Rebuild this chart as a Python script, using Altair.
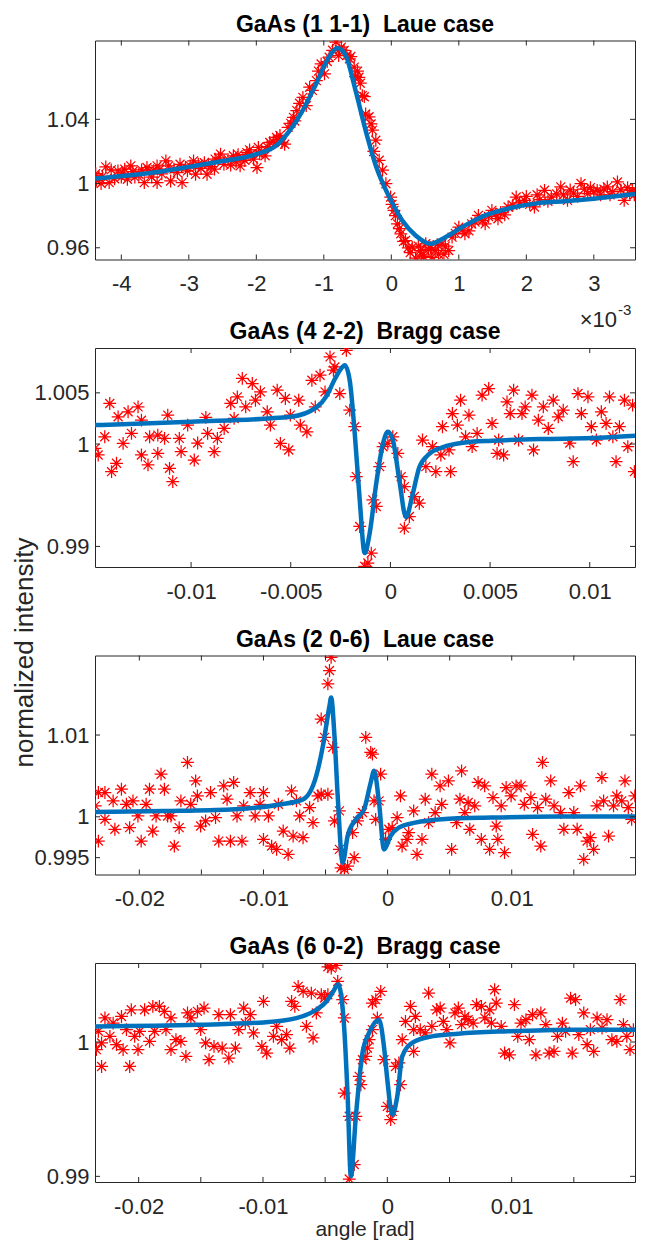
import altair as alt
import pandas as pd

# ---------------- data ----------------
# Panel 1: GaAs (1 1-1) Laue case, x in units of 1e-3 rad
P1_POINTS = [
    (-4.38, 1.0062), (-4.37, 1.0020), (-4.33, 1.0040), (-4.30, 1.0000), (-4.28, 1.0045),
    (-4.23, 1.0104), (-4.18, 1.0006), (-4.15, 1.0085), (-4.10, 1.0030), (-4.05, 1.0079),
    (-4.00, 1.0040), (-3.98, 1.0065), (-3.95, 1.0090), (-3.91, 1.0027), (-3.86, 1.0110),
    (-3.83, 1.0075), (-3.80, 1.0040), (-3.74, 1.0058), (-3.70, 1.0085), (-3.66, 1.0006),
    (-3.62, 1.0100), (-3.59, 1.0079), (-3.55, 1.0040), (-3.52, 1.0080), (-3.47, 1.0006),
    (-3.47, 1.0110), (-3.43, 1.0090), (-3.40, 1.0060), (-3.34, 1.0141), (-3.30, 1.0110),
    (-3.27, 1.0016), (-3.22, 1.0090), (-3.17, 1.0068), (-3.13, 1.0120), (-3.10, 1.0006),
    (-3.05, 1.0100), (-3.02, 1.0079), (-2.98, 1.0110), (-2.93, 1.0141), (-2.90, 1.0058),
    (-2.86, 1.0120), (-2.82, 1.0095), (-2.77, 1.0130), (-2.73, 1.0058), (-2.71, 1.0120),
    (-2.67, 1.0105), (-2.62, 1.0090), (-2.61, 1.0152), (-2.56, 1.0160), (-2.53, 1.0183),
    (-2.48, 1.0120), (-2.42, 1.0150), (-2.38, 1.0115), (-2.34, 1.0173), (-2.30, 1.0135),
    (-2.27, 1.0180), (-2.24, 1.0110), (-2.20, 1.0160), (-2.17, 1.0145), (-2.14, 1.0193),
    (-2.10, 1.0210), (-2.08, 1.0185), (-2.04, 1.0152), (-1.99, 1.0100), (-1.97, 1.0225),
    (-1.95, 1.0185), (-1.92, 1.0200), (-1.87, 1.0173), (-1.84, 1.0230), (-1.80, 1.0256),
    (-1.75, 1.0260), (-1.70, 1.0287), (-1.68, 1.0270), (-1.65, 1.0300), (-1.62, 1.0255),
    (-1.58, 1.0245), (-1.53, 1.0350), (-1.49, 1.0375), (-1.45, 1.0412), (-1.43, 1.0390),
    (-1.40, 1.0454), (-1.36, 1.0500), (-1.31, 1.0537), (-1.26, 1.0485), (-1.21, 1.0600),
    (-1.17, 1.0580), (-1.11, 1.0641), (-1.08, 1.0700), (-1.04, 1.0745), (-0.99, 1.0683),
    (-0.95, 1.0760), (-0.92, 1.0787), (-0.87, 1.0830), (-0.82, 1.0881), (-0.78, 1.0797),
    (-0.77, 1.0833), (-0.74, 1.0850), (-0.70, 1.0829), (-0.66, 1.0800), (-0.62, 1.0777),
    (-0.60, 1.0791), (-0.55, 1.0725), (-0.53, 1.0666), (-0.50, 1.0700), (-0.48, 1.0662),
    (-0.46, 1.0625), (-0.43, 1.0548), (-0.40, 1.0541), (-0.38, 1.0433), (-0.33, 1.0416),
    (-0.30, 1.0371), (-0.28, 1.0333), (-0.26, 1.0200), (-0.23, 1.0270), (-0.18, 1.0145),
    (-0.13, 1.0083), (-0.08, 0.9999), (-0.01, 0.9916), (0.01, 0.9870), (0.04, 0.9833),
    (0.06, 0.9800), (0.09, 0.9749), (0.12, 0.9720), (0.14, 0.9687), (0.18, 0.9640),
    (0.21, 0.9645), (0.25, 0.9600), (0.28, 0.9570), (0.31, 0.9604), (0.36, 0.9535),
    (0.40, 0.9610), (0.43, 0.9583), (0.45, 0.9555), (0.48, 0.9545), (0.51, 0.9625),
    (0.55, 0.9590), (0.58, 0.9600), (0.60, 0.9541), (0.65, 0.9583), (0.68, 0.9620),
    (0.70, 0.9560), (0.75, 0.9625), (0.78, 0.9560), (0.80, 0.9610), (0.85, 0.9583),
    (0.90, 0.9666), (0.95, 0.9690), (1.00, 0.9729), (1.05, 0.9710), (1.09, 0.9687),
    (1.15, 0.9705), (1.19, 0.9749), (1.24, 0.9760), (1.29, 0.9802), (1.35, 0.9770),
    (1.39, 0.9749), (1.44, 0.9795), (1.49, 0.9833), (1.54, 0.9810), (1.58, 0.9781),
    (1.62, 0.9820), (1.68, 0.9805), (1.73, 0.9854), (1.80, 0.9865), (1.85, 0.9916),
    (1.90, 0.9880), (1.97, 0.9895), (2.00, 0.9920), (2.05, 0.9870), (2.12, 0.9854),
    (2.16, 0.9930), (2.20, 0.9900), (2.27, 0.9958), (2.32, 0.9890), (2.37, 0.9916),
    (2.45, 0.9935), (2.51, 0.9979), (2.55, 0.9930), (2.61, 0.9895), (2.65, 0.9960),
    (2.70, 0.9940), (2.76, 0.9920), (2.81, 1.0000), (2.86, 0.9965), (2.91, 0.9937),
    (2.95, 0.9975), (3.00, 0.9950), (3.05, 0.9958), (3.10, 0.9930), (3.15, 0.9965),
    (3.20, 0.9979), (3.24, 0.9930), (3.28, 0.9950), (3.35, 1.0010), (3.40, 0.9960),
    (3.45, 0.9895), (3.50, 0.9975), (3.53, 0.9940), (3.57, 0.9958), (3.60, 0.9930),
]
P1_FIT = [
    (-4.39, 1.0031), (-3.5, 1.0070), (-3.0, 1.0104), (-2.5, 1.0140), (-2.0, 1.0183),
    (-1.7, 1.0239), (-1.5, 1.0333), (-1.31, 1.0458), (-1.11, 1.0625), (-0.92, 1.0791),
    (-0.80, 1.0844), (-0.68, 1.0802), (-0.53, 1.0580), (-0.38, 1.0330), (-0.22, 1.0100),
    (-0.03, 0.9916), (0.16, 0.9771), (0.36, 0.9677), (0.58, 0.9625), (0.80, 0.9666),
    (1.05, 0.9729), (1.39, 0.9802), (1.73, 0.9844), (2.12, 0.9875), (2.61, 0.9891),
    (3.0, 0.9906), (3.61, 0.9935),
]
P1_XDOM = [-4.39, 3.61]
P1_YDOM = [0.9527, 1.0891]
P1_XTICKS = [-4, -3, -2, -1, 0, 1, 2, 3]
P1_YTICKS = [0.96, 1.0, 1.04]

# Panel 2: GaAs (4 2-2) Bragg case
P2_POINTS = [
    (-0.01482, 0.99958), (-0.01466, 0.99893), (-0.01433, 1.00071), (-0.01408, 1.00396),
    (-0.01399, 0.99730), (-0.01374, 0.99812), (-0.01366, 1.00266), (-0.01341, 1.00006),
    (-0.01316, 1.00315), (-0.01299, 1.00104), (-0.01266, 1.00363), (-0.01249, 1.00233),
    (-0.01249, 0.99893), (-0.01216, 0.99796), (-0.01208, 1.00071), (-0.01167, 1.00087),
    (-0.01167, 0.99909), (-0.01133, 1.00055), (-0.01117, 1.00282), (-0.01108, 0.99763),
    (-0.01092, 0.99633), (-0.01059, 1.00055), (-0.01050, 0.99926), (-0.01017, 1.00185),
    (-0.00984, 0.99844), (-0.00967, 1.00010), (-0.00926, 1.00260), (-0.00917, 1.00104),
    (-0.00884, 0.99926), (-0.00868, 1.00055), (-0.00834, 1.00152), (-0.00801, 1.00396),
    (-0.00784, 1.00250), (-0.00768, 1.00461), (-0.00743, 1.00641), (-0.00726, 1.00363),
    (-0.00693, 1.00591), (-0.00677, 1.00428), (-0.00652, 1.00510), (-0.00618, 1.00315),
    (-0.00602, 1.00185), (-0.00568, 1.00526), (-0.00552, 1.00006), (-0.00527, 1.00445),
    (-0.00510, 0.99942), (-0.00502, 1.00282), (-0.00460, 1.00428), (-0.00452, 1.00185),
    (-0.00419, 1.00120), (-0.00394, 1.00623), (-0.00377, 1.00363), (-0.00353, 1.00672),
    (-0.00328, 1.00510), (-0.00303, 1.00851), (-0.00286, 1.00721), (-0.00279, 1.00753),
    (-0.00254, 1.00493), (-0.00221, 1.00916), (-0.00204, 1.00331), (-0.00179, 1.00169),
    (-0.00171, 0.99682), (-0.00154, 0.99195), (-0.00129, 0.98805), (-0.00113, 0.98838),
    (-0.00096, 0.98935), (-0.00088, 0.99455), (-0.00071, 0.99390), (-0.00054, 0.99779),
    (-0.00037, 0.99974), (-0.00013, 1.00006), (0.00012, 1.00071), (0.00037, 0.99909),
    (0.00054, 0.99682), (0.00070, 0.99584), (0.00070, 0.99179), (0.00095, 0.99292),
    (0.00120, 0.99487), (0.00145, 0.99422), (0.00161, 1.00039), (0.00178, 0.99779),
    (0.00211, 0.99974), (0.00228, 0.99731), (0.00253, 0.99893), (0.00261, 1.00169),
    (0.00294, 0.99942), (0.00302, 0.99731), (0.00311, 1.00298), (0.00336, 1.00185),
    (0.00352, 1.00428), (0.00377, 1.00071), (0.00394, 1.00282), (0.00410, 0.99974),
    (0.00435, 1.00104), (0.00460, 1.00477), (0.00493, 1.00542), (0.00510, 1.00201),
    (0.00535, 0.99909), (0.00543, 1.00039), (0.00568, 0.99893), (0.00585, 1.00412),
    (0.00601, 1.00298), (0.00618, 1.00526), (0.00643, 1.00039), (0.00660, 1.00298),
    (0.00676, 1.00363), (0.00710, 1.00477), (0.00718, 0.99942), (0.00742, 1.00233),
    (0.00767, 1.00363), (0.00792, 1.00152), (0.00817, 1.00428), (0.00842, 1.00266),
    (0.00867, 1.00331), (0.00900, 1.00010), (0.00917, 0.99828), (0.00941, 1.00493),
    (0.00958, 1.00298), (0.00991, 1.00461), (0.01008, 1.00169), (0.01033, 1.00039),
    (0.01058, 1.00315), (0.01082, 1.00201), (0.01099, 1.00461), (0.01116, 1.00071),
    (0.01132, 0.99828), (0.01149, 1.00169), (0.01174, 1.00428), (0.01191, 0.99974),
    (0.01215, 1.00380), (0.01224, 0.99731),
]
P2_FIT = [
    (-0.01482, 1.00185), (-0.01, 1.00217), (-0.005, 1.00266), (-0.0037, 1.0036),
    (-0.0032, 1.0047), (-0.0028, 1.0063), (-0.0025, 1.0073), (-0.00229, 1.0077),
    (-0.00204, 1.0062), (-0.00179, 1.00104), (-0.00154, 0.99455), (-0.00129, 0.98935),
    (-0.00104, 0.99130), (-0.00071, 0.99617), (-0.00037, 1.00006), (-0.00013, 1.00120),
    (0.00012, 1.00040), (0.00045, 0.99643), (0.00078, 0.99286), (0.00112, 0.99513),
    (0.00145, 0.99773), (0.00195, 0.99903), (0.00261, 0.99968), (0.00377, 1.00016),
    (0.0051, 1.00032), (0.0076, 1.00049), (0.0101, 1.00058), (0.01227, 1.00080),
]
P2_XDOM = [-0.01482, 0.01227]
P2_YDOM = [0.98799, 1.00938]
P2_XTICKS = [-0.01, -0.005, 0, 0.005, 0.01]
P2_YTICKS = [0.99, 1.0, 1.005]

# Panel 3: GaAs (2 0-6) Laue case
P3_POINTS = [
    (-0.02355, 1.00133), (-0.02330, 0.99703), (-0.02330, 1.00297), (-0.02277, 1.00297),
    (-0.02277, 0.99969), (-0.02211, 1.00194), (-0.02197, 0.99847), (-0.02144, 1.00337),
    (-0.02104, 1.00153), (-0.02078, 0.99867), (-0.02051, 1.00194), (-0.02011, 1.00010),
    (-0.01985, 0.99703), (-0.01945, 1.00153), (-0.01918, 1.00337), (-0.01892, 0.99826),
    (-0.01865, 1.00010), (-0.01825, 1.00521), (-0.01798, 1.00337), (-0.01772, 1.00010),
    (-0.01745, 1.00010), (-0.01718, 0.99642), (-0.01679, 0.99867), (-0.01665, 1.00194),
    (-0.01612, 1.00665), (-0.01586, 1.00153), (-0.01546, 1.00439), (-0.01532, 1.00255),
    (-0.01506, 0.99887), (-0.01466, 0.99949), (-0.01426, 1.00297), (-0.01386, 0.99990),
    (-0.01360, 0.99703), (-0.01320, 1.00378), (-0.01293, 1.00215), (-0.01266, 0.99703),
    (-0.01240, 1.00420), (-0.01213, 1.00010), (-0.01173, 0.99703), (-0.01160, 1.00133),
    (-0.01107, 1.00297), (-0.01067, 1.00010), (-0.01027, 1.00153), (-0.01000, 1.00297),
    (-0.01000, 0.99724), (-0.00960, 1.00010), (-0.00934, 0.99642), (-0.00894, 0.99601),
    (-0.00880, 1.00153), (-0.00841, 0.99826), (-0.00801, 0.99540), (-0.00774, 1.00317),
    (-0.00761, 0.99764), (-0.00734, 1.00194), (-0.00708, 1.00010), (-0.00681, 0.99744),
    (-0.00628, 1.00113), (-0.00601, 0.99929), (-0.00561, 1.00255), (-0.00535, 1.00276),
    (-0.00535, 1.01196), (-0.00508, 1.00972), (-0.00481, 1.01626), (-0.00468, 1.01789),
    (-0.00455, 1.01950), (-0.00481, 1.00276), (-0.00442, 1.00849), (-0.00428, 0.99949),
    (-0.00388, 1.00072), (-0.00388, 0.99601), (-0.00375, 0.99376), (-0.00348, 0.99356),
    (-0.00322, 0.99396), (-0.00282, 0.99806), (-0.00269, 0.99499), (-0.00242, 0.99949),
    (-0.00202, 1.00052), (-0.00176, 1.00972), (-0.00136, 1.00788), (-0.00122, 1.00767),
    (-0.00109, 1.00194), (-0.00096, 0.99969), (-0.00069, 1.00194), (-0.00056, 1.00521),
    (-0.00016, 0.99724), (0.00010, 0.99847), (0.00037, 0.99867), (0.00077, 0.99990),
    (0.00104, 1.00255), (0.00117, 0.99642), (0.00157, 0.99724), (0.00170, 0.99806),
    (0.00210, 1.00072), (0.00237, 0.99540), (0.00277, 0.99724), (0.00303, 1.00215),
    (0.00330, 0.99929), (0.00356, 1.00521), (0.00383, 1.00052), (0.00423, 1.00378),
    (0.00436, 1.00153), (0.00490, 1.00439), (0.00516, 0.99601), (0.00556, 0.99929),
    (0.00583, 1.00215), (0.00596, 1.00562), (0.00622, 1.00052), (0.00649, 1.00174),
    (0.00662, 0.99847), (0.00702, 1.00133), (0.00729, 1.00420), (0.00755, 0.99724),
    (0.00782, 1.00378), (0.00822, 0.99601), (0.00849, 1.00235), (0.00875, 0.99887),
    (0.00888, 0.99724), (0.00915, 1.00133), (0.00942, 0.99561), (0.00955, 1.00358),
    (0.00995, 1.00255), (0.01035, 1.00378), (0.01075, 1.00378), (0.01101, 1.00153),
    (0.01154, 1.00235), (0.01168, 0.99785), (0.01208, 1.00113), (0.01234, 0.99642),
    (0.01248, 1.00665), (0.01274, 1.00215), (0.01314, 1.00439), (0.01341, 1.00133),
    (0.01394, 1.00052), (0.01420, 0.99847), (0.01460, 1.00297), (0.01500, 1.00052),
    (0.01527, 0.99847), (0.01553, 1.00378), (0.01580, 0.99479), (0.01607, 0.99703),
    (0.01633, 0.99744), (0.01660, 0.99601), (0.01686, 1.00133), (0.01726, 1.00480),
    (0.01740, 1.00194), (0.01780, 0.99764), (0.01820, 1.00133), (0.01846, 1.00255),
    (0.01886, 1.00194), (0.01912, 1.00439), (0.01939, 1.00113), (0.01966, 0.99969),
    (0.01992, 1.00255),
]
P3_FIT = [
    (-0.02357, 1.00059), (-0.01802, 1.00071), (-0.01266, 1.00090), (-0.00866, 1.00151),
    (-0.00681, 1.00213), (-0.00575, 1.00500), (-0.00521, 1.00867), (-0.00468, 1.01358),
    (-0.00455, 1.01460), (-0.00428, 1.00992), (-0.00402, 1.00256), (-0.00362, 0.99438),
    (-0.00322, 0.99765), (-0.00255, 0.99970), (-0.00189, 1.00092), (-0.00136, 1.00419),
    (-0.00109, 1.00562), (-0.00069, 1.00174), (-0.00029, 0.99601), (0.00024, 0.99765),
    (0.00090, 0.99867), (0.00223, 0.99928), (0.00436, 0.99970), (0.00836, 0.99990),
    (0.01368, 1.00002), (0.01993, 1.00002),
]
P3_XDOM = [-0.02357, 0.01993]
P3_YDOM = [0.99294, 1.01973]
P3_XTICKS = [-0.02, -0.015, -0.01, -0.005, 0, 0.005, 0.01, 0.015]
P3_XLABELS = [-0.02, -0.01, 0, 0.01]
P3_YTICKS = [0.995, 1.0, 1.01]

# Panel 4: GaAs (6 0-2) Bragg case
P4_POINTS = [
    (-0.02340, 0.99943), (-0.02324, 1.00080), (-0.02298, 0.99818), (-0.02298, 0.99993),
    (-0.02271, 1.00179), (-0.02231, 1.00042), (-0.02205, 1.00141), (-0.02178, 0.99980),
    (-0.02138, 1.00190), (-0.02125, 0.99943), (-0.02098, 1.00092), (-0.02072, 0.99818),
    (-0.02059, 1.00240), (-0.02032, 1.00042), (-0.02005, 0.99943), (-0.01992, 1.00080),
    (-0.01952, 1.00240), (-0.01912, 1.00005), (-0.01886, 1.00265), (-0.01872, 1.00080),
    (-0.01833, 1.00265), (-0.01793, 1.00228), (-0.01780, 1.00092), (-0.01740, 1.00179),
    (-0.01740, 0.99943), (-0.01700, 1.00017), (-0.01660, 1.00005), (-0.01620, 0.99893),
    (-0.01607, 1.00216), (-0.01580, 1.00179), (-0.01527, 1.00228), (-0.01501, 1.00092),
    (-0.01474, 1.00253), (-0.01461, 0.99993), (-0.01434, 0.99868), (-0.01394, 0.99967),
    (-0.01355, 1.00203), (-0.01328, 0.99955), (-0.01275, 0.99880), (-0.01262, 1.00203),
    (-0.01222, 0.99955), (-0.01195, 1.00092), (-0.01155, 1.00253), (-0.01142, 1.00141),
    (-0.01102, 1.00203), (-0.01076, 1.00067), (-0.01009, 0.99967), (-0.00996, 1.00302),
    (-0.00970, 0.99918), (-0.00916, 1.00042), (-0.00890, 1.00116), (-0.00850, 1.00017),
    (-0.00810, 1.00055), (-0.00784, 0.99955), (-0.00770, 1.00302), (-0.00744, 1.00265),
    (-0.00717, 1.00414), (-0.00677, 1.00377), (-0.00651, 1.00116), (-0.00611, 1.00364),
    (-0.00597, 1.00030), (-0.00571, 1.00216), (-0.00531, 1.00352), (-0.00504, 1.00327),
    (-0.00478, 1.00560), (-0.00451, 1.00550), (-0.00478, 1.00352), (-0.00412, 1.00570),
    (-0.00399, 1.00451), (-0.00359, 1.00315), (-0.00346, 1.00179), (-0.00346, 0.99620),
    (-0.00306, 0.99447), (-0.00306, 0.98980), (-0.00266, 0.99088), (-0.00253, 0.99447),
    (-0.00226, 0.99744), (-0.00213, 0.99682), (-0.00200, 0.99868), (-0.00173, 0.99893),
    (-0.00160, 0.99955), (-0.00146, 1.00017), (-0.00120, 1.00092), (-0.00120, 1.00290),
    (-0.00093, 1.00315), (-0.00080, 1.00179), (-0.00053, 1.00377), (-0.00027, 0.99868),
    (0.00000, 0.99521), (0.00027, 0.99422), (0.00040, 0.99484), (0.00066, 0.99818),
    (0.00093, 0.99844), (0.00106, 0.99682), (0.00120, 1.00017), (0.00146, 1.00153),
    (0.00186, 1.00265), (0.00212, 1.00092), (0.00212, 0.99930), (0.00226, 1.00190),
    (0.00265, 1.00092), (0.00305, 1.00067), (0.00332, 1.00364), (0.00358, 1.00116),
    (0.00398, 1.00240), (0.00425, 1.00253), (0.00451, 1.00153), (0.00478, 1.00092),
    (0.00504, 0.99993), (0.00544, 1.00216), (0.00571, 1.00253), (0.00597, 1.00129),
    (0.00624, 1.00190), (0.00650, 1.00166), (0.00690, 1.00141), (0.00717, 1.00278),
    (0.00757, 1.00265), (0.00784, 1.00179), (0.00824, 1.00240), (0.00837, 1.00141),
    (0.00863, 1.00389), (0.00876, 1.00290), (0.00916, 1.00116), (0.00943, 0.99918),
    (0.00983, 0.99905), (0.01022, 1.00278), (0.01049, 1.00042), (0.01075, 1.00141),
    (0.01115, 1.00166), (0.01142, 1.00017), (0.01168, 1.00203), (0.01195, 0.99905),
    (0.01235, 1.00216), (0.01275, 1.00129), (0.01301, 0.99918), (0.01341, 0.99930),
    (0.01368, 1.00042), (0.01408, 1.00141), (0.01434, 1.00080), (0.01474, 1.00327),
    (0.01487, 0.99918), (0.01514, 1.00315), (0.01540, 1.00055), (0.01580, 1.00216),
    (0.01607, 0.99980), (0.01633, 1.00092), (0.01660, 0.99930), (0.01687, 1.00179),
    (0.01727, 1.00104), (0.01767, 1.00166), (0.01806, 1.00017), (0.01846, 1.00005),
    (0.01873, 1.00315), (0.01899, 1.00129), (0.01926, 1.00042), (0.01952, 0.99943),
    (0.01979, 1.00092),
]
P4_FIT = [
    (-0.02351, 1.00116), (-0.01528, 1.00128), (-0.00997, 1.00146), (-0.00731, 1.00178),
    (-0.00571, 1.00240), (-0.00492, 1.00300), (-0.00439, 1.00370), (-0.00395, 1.00430),
    (-0.00346, 1.00092), (-0.00319, 0.99595), (-0.00293, 0.99000), (-0.00253, 0.99447),
    (-0.00200, 0.99918), (-0.00147, 1.00067), (-0.00067, 1.00166), (-0.00027, 0.99967),
    (0.00000, 0.99720), (0.00040, 0.99459), (0.00080, 0.99595), (0.00120, 0.99893),
    (0.00200, 0.99993), (0.00358, 1.00042), (0.00571, 1.00062), (0.00970, 1.00080),
    (0.01500, 1.00092), (0.01992, 1.00092),
]
P4_XDOM = [-0.02351, 0.01992]
P4_YDOM = [0.98958, 1.00588]
P4_XTICKS = [-0.02, -0.015, -0.01, -0.005, 0, 0.005, 0.01, 0.015]
P4_XLABELS = [-0.02, -0.01, 0, 0.01]
P4_YTICKS = [0.99, 1.0]

TITLES = [
    "GaAs (1 1-1)\u00a0 Laue case",
    "GaAs (4 2-2)\u00a0 Bragg case",
    "GaAs (2 0-6)\u00a0 Laue case",
    "GaAs (6 0-2)\u00a0 Bragg case",
]
X_TITLE = "angle [rad]"
Y_TITLE = "normalized intensity"
EXP_BASE = "\u00d710"
EXP_POWER = "-3"

# ---------------- styling ----------------
FONT = "Liberation Sans"
RED = "#FF0000"
BLUE = "#0072BD"
AX = "#262626"
W, H = 540, 219
TICK = 5
STAR = "M-1,0L1,0M0,-1L0,1M-0.7,-0.7L0.7,0.7M-0.7,0.7L0.7,-0.7"
LBL = "replace(format(datum.value, '~g'), '\u2212', '-')"


def text_layer(txt, x, y, size, align="center", weight="normal", color=AX, angle=0):
    kw = dict(align=align, baseline="alphabetic", font=FONT, fontSize=size,
              fontWeight=weight, color=color)
    if angle:
        kw["angle"] = angle
    return alt.Chart(pd.DataFrame({"t": [txt]})).mark_text(**kw).encode(
        text="t:N", x=alt.value(x), y=alt.value(y))


def panel(title, pts, fit, xdom, ydom, xticks, xlabels, yticks, extra=()):
    xs = alt.Scale(domain=xdom, nice=False, zero=False)
    ys = alt.Scale(domain=ydom, nice=False, zero=False)
    X = alt.X("x:Q", scale=xs, axis=alt.Axis(values=xlabels, labelExpr=LBL, title=None,
                                             labelOverlap=False, labelFlush=False))
    Y = alt.Y("y:Q", scale=ys, axis=alt.Axis(values=yticks, labelExpr=LBL, title=None,
                                             labelOverlap=False))

    df_pts = pd.DataFrame(pts, columns=["x", "y"])
    df_fit = pd.DataFrame(fit, columns=["x", "y"])
    df_xt = pd.DataFrame({"x": xticks})
    df_yt = pd.DataFrame({"y": yticks})

    scatter = alt.Chart(df_pts).mark_point(
        shape=STAR, filled=False, color=RED, size=165, strokeWidth=1.25,
        opacity=1, clip=True
    ).encode(x=X, y=Y)
    line = alt.Chart(df_fit).mark_line(
        color=BLUE, strokeWidth=4.5, interpolate="monotone", clip=True
    ).encode(x=X, y=Y)
    xb = alt.Chart(df_xt).mark_rule(color=AX, strokeWidth=1).encode(
        x=X, y=alt.value(H), y2=alt.value(H - TICK))
    xt = alt.Chart(df_xt).mark_rule(color=AX, strokeWidth=1).encode(
        x=X, y=alt.value(0), y2=alt.value(TICK))
    yl = alt.Chart(df_yt).mark_rule(color=AX, strokeWidth=1).encode(
        y=Y, x=alt.value(0), x2=alt.value(TICK))
    yr = alt.Chart(df_yt).mark_rule(color=AX, strokeWidth=1).encode(
        y=Y, x=alt.value(W - TICK), x2=alt.value(W))
    ttl = text_layer(title, W / 2, -9, 23, weight="bold", color="black")
    layers = [scatter, line, xb, xt, yl, yr, ttl] + list(extra)
    return alt.layer(*layers).properties(width=W, height=H)


p1 = panel(TITLES[0], P1_POINTS, P1_FIT, P1_XDOM, P1_YDOM, P1_XTICKS, P1_XTICKS,
           P1_YTICKS,
           extra=(text_layer(EXP_BASE, W - 18, 286, 22, align="right"),
                  text_layer(EXP_POWER, W - 17, 274, 15, align="left")))
p2 = panel(TITLES[1], P2_POINTS, P2_FIT, P2_XDOM, P2_YDOM, P2_XTICKS, P2_XTICKS,
           P2_YTICKS)
p3 = panel(TITLES[2], P3_POINTS, P3_FIT, P3_XDOM, P3_YDOM, P3_XTICKS, P3_XLABELS,
           P3_YTICKS,
           extra=(text_layer(Y_TITLE, -62, -3, 26, angle=270),))
p4 = panel(TITLES[3], P4_POINTS, P4_FIT, P4_XDOM, P4_YDOM, P4_XTICKS, P4_XLABELS,
           P4_YTICKS,
           extra=(text_layer(X_TITLE, W / 2, H + 53.5, 21),))

chart = alt.vconcat(p1, p2, p3, p4, spacing=88.5, bounds="flush").properties(
    padding={"left": 3, "top": 4.5, "right": 0, "bottom": 0}
).configure_view(
    stroke=AX, strokeWidth=1
).configure_axis(
    labelFont=FONT, labelFontSize=22, labelColor=AX, ticks=False, tickSize=0,
    domain=False, grid=False
).configure_axisX(
    labelPadding=14
).configure_axisY(
    labelPadding=6
)

chart.save("out.html", embed_options={"renderer": "svg", "actions": False})
